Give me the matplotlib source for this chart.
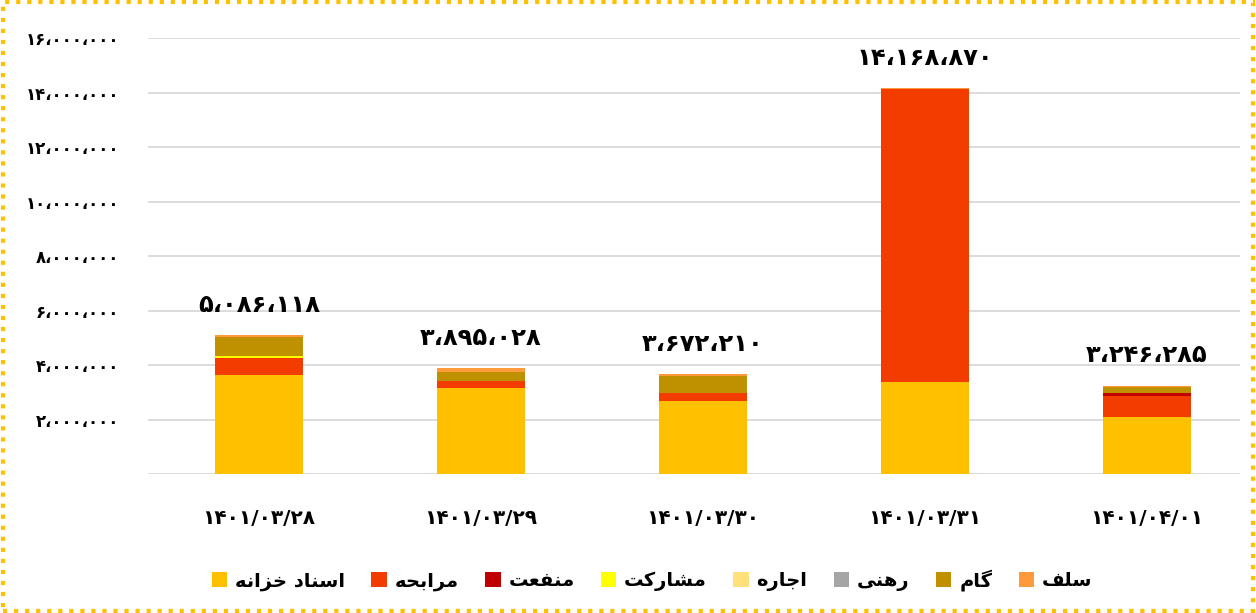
import matplotlib
matplotlib.use("Agg")
import matplotlib.pyplot as plt
from matplotlib.patches import Rectangle
from matplotlib.ticker import FuncFormatter
import numpy as np

plt.rcParams['font.family'] = ['DejaVu Sans']
plt.rcParams['font.weight'] = 'bold'

# --- data ---
dates = ["۱۴۰۱/۰۳/۲۸", "۱۴۰۱/۰۳/۲۹", "۱۴۰۱/۰۳/۳۰", "۱۴۰۱/۰۳/۳۱", "۱۴۰۱/۰۴/۰۱"]
series_names = ["اسناد خزانه", "مرابحه", "منفعت", "مشارکت", "اجاره", "رهنی", "گام", "سلف"]
asnad = [3640000, 3145000, 2696000, 3365000, 2091000]
morabehe = [630000, 250000, 270000, 10754000, 785000]
manfaat = [0, 0, 0, 0, 95000]
mosharekat = [60000, 0, 0, 0, 0]
ejare = [0, 0, 0, 0, 0]
rahni = [0, 0, 0, 0, 0]
gam = [700000, 340000, 646000, 0, 235000]
salaf = [56118, 160028, 60210, 49870, 40285]
totals = [5086118, 3895028, 3672210, 14168870, 3246285]
colors = ["#FFC000", "#F23C00", "#C00000", "#FFFF00", "#FFE07A", "#A5A5A5", "#BF9000", "#FF9A3C"]

# --- minimal Arabic/Persian shaping (matplotlib has no text shaping) ---
FORMS = {
    'ا': (0xFE8D, 0xFE8E, None, None), 'ب': (0xFE8F, 0xFE90, 0xFE91, 0xFE92),
    'ت': (0xFE95, 0xFE96, 0xFE97, 0xFE98), 'ج': (0xFE9D, 0xFE9E, 0xFE9F, 0xFEA0),
    'ح': (0xFEA1, 0xFEA2, 0xFEA3, 0xFEA4), 'خ': (0xFEA5, 0xFEA6, 0xFEA7, 0xFEA8),
    'د': (0xFEA9, 0xFEAA, None, None), 'ر': (0xFEAD, 0xFEAE, None, None),
    'ز': (0xFEAF, 0xFEB0, None, None), 'س': (0xFEB1, 0xFEB2, 0xFEB3, 0xFEB4),
    'ش': (0xFEB5, 0xFEB6, 0xFEB7, 0xFEB8), 'ع': (0xFEC9, 0xFECA, 0xFECB, 0xFECC),
    'ف': (0xFED1, 0xFED2, 0xFED3, 0xFED4), 'ل': (0xFEDD, 0xFEDE, 0xFEDF, 0xFEE0),
    'م': (0xFEE1, 0xFEE2, 0xFEE3, 0xFEE4), 'ن': (0xFEE5, 0xFEE6, 0xFEE7, 0xFEE8),
    'ه': (0xFEE9, 0xFEEA, 0xFEEB, 0xFEEC), 'ک': (0xFB8E, 0xFB8F, 0xFB90, 0xFB91),
    'گ': (0xFB92, 0xFB93, 0xFB94, 0xFB95), 'ی': (0xFBFC, 0xFBFD, 0xFBFE, 0xFBFF),
}


def shape(text):
    out = []
    for i, ch in enumerate(text):
        if ch not in FORMS:
            out.append(ch)
            continue
        prev = text[i - 1] if i > 0 else ''
        nxt = text[i + 1] if i + 1 < len(text) else ''
        join_prev = prev in FORMS and FORMS[prev][2] is not None
        join_next = nxt in FORMS and FORMS[ch][2] is not None
        iso, fin, ini, med = FORMS[ch]
        if join_prev and join_next:
            code = med
        elif join_prev:
            code = fin
        elif join_next:
            code = ini
        else:
            code = iso
        out.append(chr(code))
    return ''.join(reversed(out))


FA_DIGITS = str.maketrans("0123456789", "۰۱۲۳۴۵۶۷۸۹")


def fa_num(v):
    return f"{int(v):,}".replace(",", "،").translate(FA_DIGITS)


fig = plt.figure(figsize=(12.56, 6.13), dpi=100)
ax = fig.add_axes([148 / 1256, 1 - 474 / 613, 1092 / 1256, 436 / 613])

x = np.arange(len(dates))
stack = [asnad, morabehe, manfaat, mosharekat, ejare, rahni, gam, salaf]
bottom = np.zeros(len(dates))
for name, vals, col in zip(series_names, stack, colors):
    ax.bar(x, vals, 0.396, bottom=bottom, color=col, label=shape(name), zorder=3)
    bottom += np.array(vals)

for xi, t in zip(x, totals):
    ax.annotate(fa_num(t), (xi, t), xytext=(0, 13), textcoords='offset points',
                ha='center', va='bottom', fontsize=17.5, fontweight='bold')

# plot area is slightly wider than the visible grid on the right
ax.set_xlim(-0.5, len(dates) - 0.581)
ax.set_ylim(0, 16000000)
ax.set_yticks(np.arange(0, 16000001, 2000000))
ax.yaxis.set_major_formatter(FuncFormatter(lambda v, p: fa_num(v) if v > 0 else ''))
ax.set_xticks(x)
ax.set_xticklabels(dates, fontsize=14.5, fontweight='bold')
ax.tick_params(axis='y', labelsize=12, length=0, pad=21)
ax.tick_params(axis='x', length=0, pad=25)
for lab in ax.get_yticklabels():
    lab.set_fontweight('bold')
ax.grid(axis='y', color='#D9D9D9', lw=1.3, zorder=0)
for s in ax.spines.values():
    s.set_visible(False)

leg = fig.legend(loc='center', bbox_to_anchor=(652 / 1256, 1 - 580 / 613), ncol=8,
                 frameon=False, prop={'size': 14, 'weight': 'bold'},
                 handlelength=0.8, handleheight=0.8, handletextpad=0.4, columnspacing=1.35)

fig.patches.append(Rectangle((0.002, 0.003), 0.996, 0.994, transform=fig.transFigure,
                             fill=False, ec='#FFC000', ls=':', lw=3))

fig.savefig("out.png", dpi=100)
